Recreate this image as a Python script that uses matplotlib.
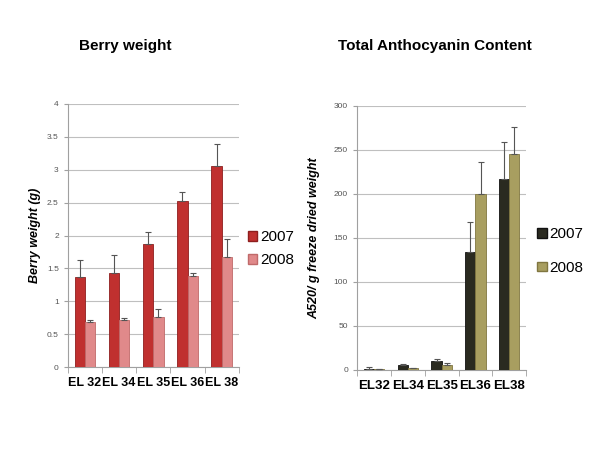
import matplotlib
matplotlib.use("Agg")
import matplotlib.pyplot as plt
import numpy as np
from matplotlib.patches import Patch

stages_left = ["EL 32", "EL 34", "EL 35", "EL 36", "EL 38"]
berry_2007 = [1.37, 1.43, 1.87, 2.53, 3.05]
berry_2007_err = [0.26, 0.28, 0.19, 0.13, 0.34]
berry_2008 = [0.68, 0.71, 0.76, 1.38, 1.68]
berry_2008_err = [0.04, 0.03, 0.12, 0.05, 0.27]

stages_right = ["EL32", "EL34", "EL35", "EL36", "EL38"]
antho_2007 = [1.5, 5, 10, 134, 217]
antho_2007_err = [1.5, 2, 2.5, 34, 42]
antho_2008 = [1, 2, 6, 200, 245]
antho_2008_err = [0.5, 0.5, 1.5, 36, 31]

years = ["2007", "2008"]

plt.rcParams['font.family'] = ['Liberation Sans', 'DejaVu Sans']

fig = plt.figure(figsize=(6, 4.5), dpi=100)
axL = fig.add_axes([0.113, 0.184, 0.285, 0.585])
axR = fig.add_axes([0.595, 0.178, 0.282, 0.587])


def draw(ax, cats, v1, e1, v2, e2, c1, c2, ec1, ec2, ymax, step, ylabel, leg_x, leg_sp, lpad, xfs):
    x = np.arange(len(cats))
    w = 0.3
    ax.bar(x - w / 2, v1, w, color=c1, edgecolor=ec1, linewidth=0.6, zorder=3)
    ax.bar(x + w / 2, v2, w, color=c2, edgecolor=ec2, linewidth=0.6, zorder=3)
    ax.errorbar(x - w / 2, v1, yerr=[np.zeros(len(v1)), e1], fmt='none',
                ecolor='#555555', elinewidth=0.8, capsize=2, capthick=0.8, zorder=4)
    ax.errorbar(x + w / 2, v2, yerr=[np.zeros(len(v2)), e2], fmt='none',
                ecolor='#555555', elinewidth=0.8, capsize=2, capthick=0.8, zorder=4)
    ax.set_xlim(-0.5, len(cats) - 0.5)
    ax.set_ylim(0, ymax)
    ticks = np.arange(0, ymax + step / 2, step)
    ax.set_yticks(ticks)
    ax.set_yticklabels([f"{t:g}" for t in ticks])
    ax.yaxis.grid(True, color='#bfbfbf', linewidth=0.8, zorder=0)
    ax.set_axisbelow(True)
    for s in ['top', 'right']:
        ax.spines[s].set_visible(False)
    ax.spines['left'].set_color('#a0a0a0')
    ax.spines['bottom'].set_color('#a0a0a0')
    ax.tick_params(axis='y', labelsize=6, colors='#555555', length=3, color='#a0a0a0')
    ax.set_xticks(x)
    ax.set_xticklabels(cats, fontsize=xfs, fontweight='bold')
    ax.tick_params(axis='x', length=0, pad=7, colors='black')
    ax.set_xticks(np.arange(-0.5, len(cats)), minor=True)
    ax.tick_params(axis='x', which='minor', length=4, color='#a0a0a0', direction='out')
    ax.set_ylabel(ylabel, fontsize=9, fontweight='bold', style='italic', labelpad=lpad)
    handles = [Patch(facecolor=c1, edgecolor=ec1), Patch(facecolor=c2, edgecolor=ec2)]
    ax.legend(handles, years, loc='center left', bbox_to_anchor=(leg_x, 0.45),
              frameon=False, fontsize=11, handlelength=0.6, handleheight=0.6,
              handletextpad=0.2, labelspacing=leg_sp, borderaxespad=0)


draw(axL, stages_left, berry_2007, berry_2007_err, berry_2008, berry_2008_err,
     '#c0302f', '#e0898a', '#8e1e1e', '#c06a6a', 4, 0.5, 'Berry weight (g)', 1.02, 0.6, 4, 9)
draw(axR, stages_right, antho_2007, antho_2007_err, antho_2008, antho_2008_err,
     '#2a2a20', '#a89e60', '#111111', '#807640', 300, 50, 'A520/ g freeze dried weight',
     1.03, 1.3, 10, 9.5)

fig.text(0.208, 0.897, 'Berry weight', fontsize=11, fontweight='bold', ha='center', va='center')
fig.text(0.725, 0.897, 'Total Anthocyanin Content', fontsize=11, fontweight='bold', ha='center', va='center')

fig.savefig('out.png', dpi=100)
